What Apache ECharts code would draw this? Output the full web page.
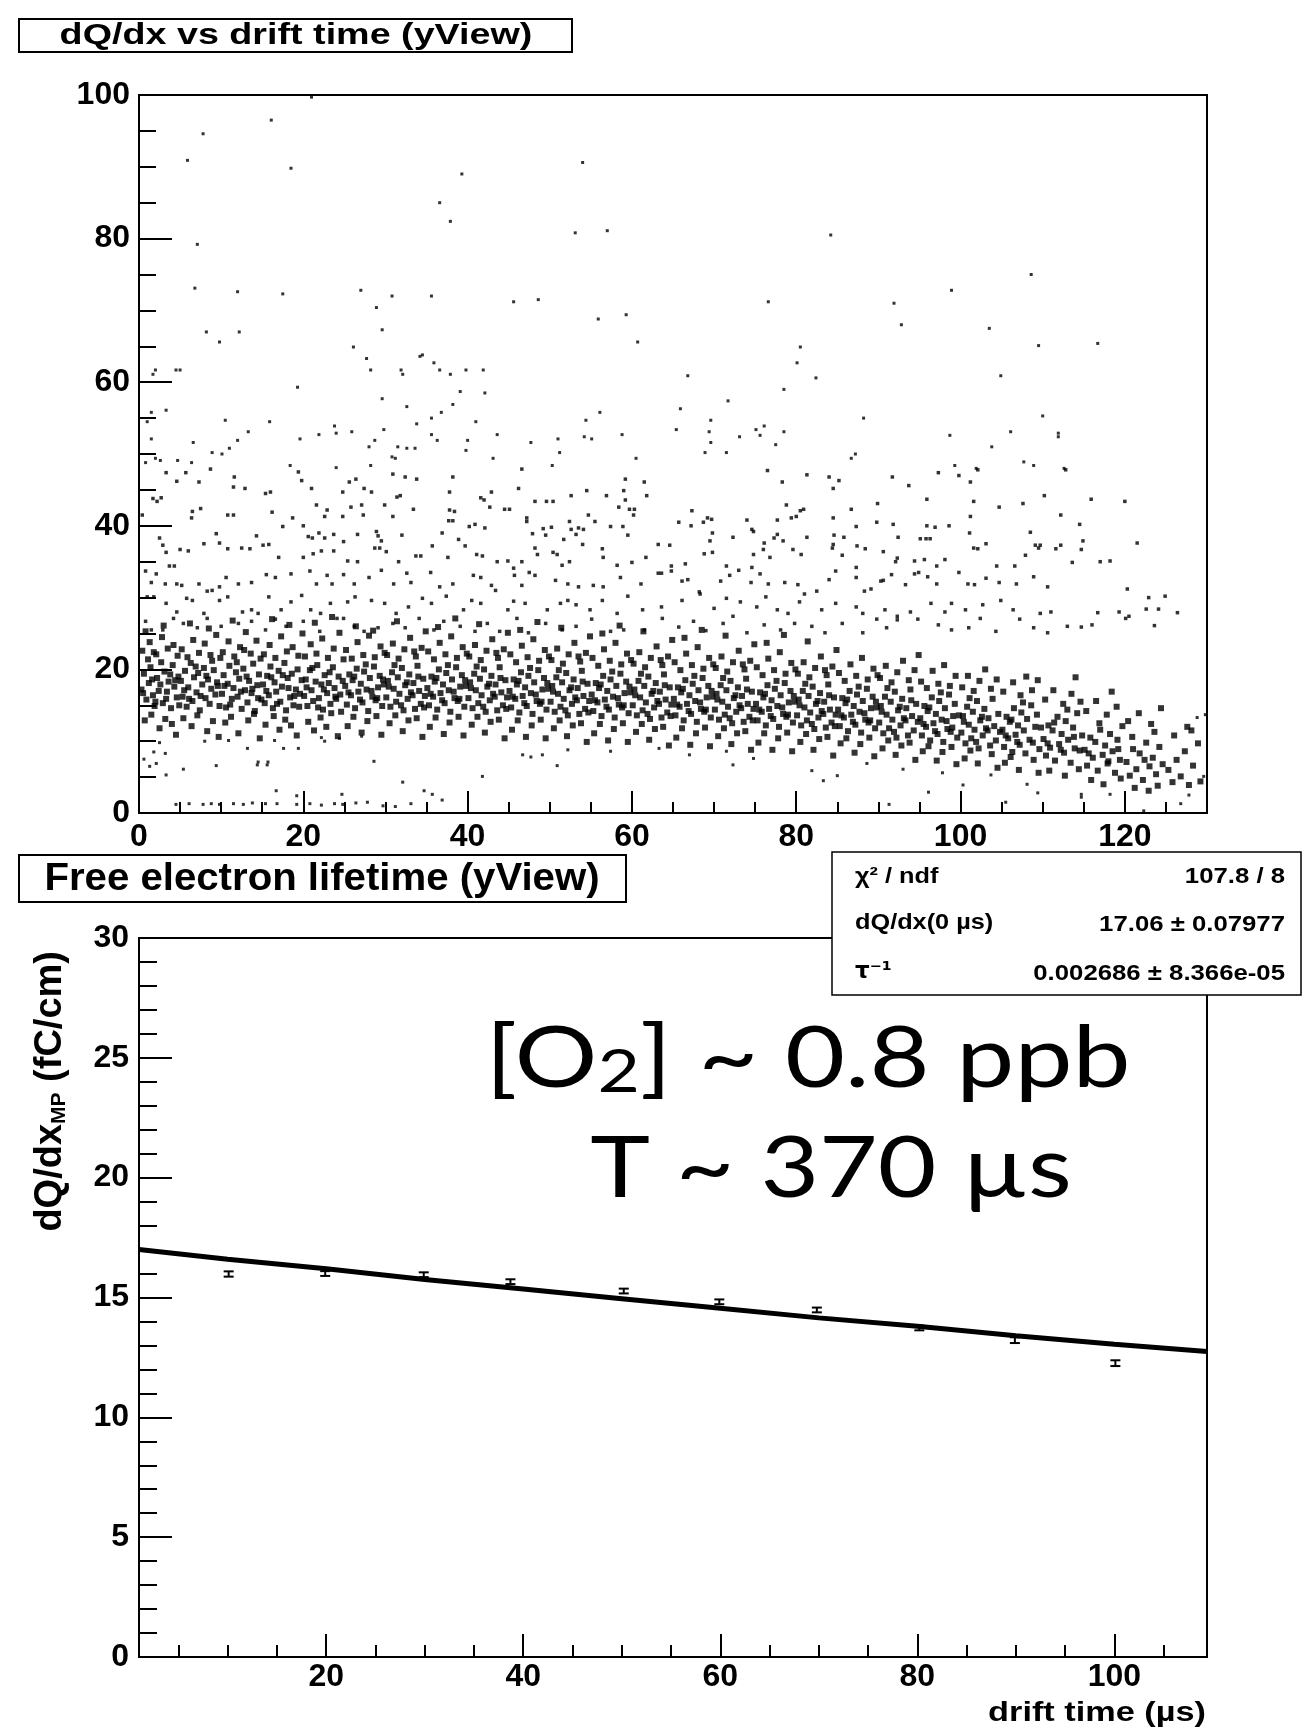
<!DOCTYPE html>
<html lang="en">
<head>
<meta charset="UTF-8">
<title>dQ/dx vs drift time (yView)</title>
<script src="https://cdn.jsdelivr.net/npm/echarts@6/dist/echarts.min.js"></script>
<style>
  html, body { margin: 0; padding: 0; background: #fff; }
  #main { width: 1304px; height: 1730px; }
</style>
</head>
<body>
<div id="main"></div>
<script>
// ---------- top pad: dQ/dx vs drift time ----------
// sparse points above ~48
var scatterHigh = [
  [21.0,99.7],[16.1,96.5],[7.8,94.6],[5.9,90.9],[18.5,89.8],[54.0,90.6],[39.3,89.0],[36.6,85.0],[37.9,82.4],[53.1,80.8],[57.0,81.1],[7.1,79.2],
  [6.8,73.1],[12.0,72.6],[17.5,72.3],[27.0,72.8],[30.8,72.0],[35.6,72.0],[28.9,70.4],[45.6,71.2],[48.6,71.5],[55.9,68.8],[59.3,69.4],
  [8.2,67.0],[12.2,67.0],[9.8,65.6],[29.6,67.3],[60.7,65.6],[26.1,64.9],[27.7,63.3],[34.2,63.6],[34.5,63.8],[35.9,62.7],
  [1.7,61.1],[2.0,61.7],[4.5,61.7],[5.0,61.7],[28.2,61.7],[31.9,61.7],[32.1,61.1],[36.6,61.7],[37.9,61.1],[39.8,61.7],[41.9,61.7],
  [19.3,59.3],[39.1,58.7],[42.1,58.5],[29.6,57.7],[32.6,56.6],[38.2,56.9],[1.5,55.8],[3.3,56.1],[36.8,55.8],[56.1,55.8],
  [1.0,54.5],[10.5,54.7],[15.9,54.5],[35.6,55.0],[41.0,54.5],[54.4,54.7],[23.8,53.9],[13.3,53.1],[24.0,52.9],[25.9,53.1],[29.8,53.4],[33.8,54.2],[65.4,53.4],
  [1.5,52.1],[6.6,51.6],[12.0,51.9],[19.6,52.1],[21.9,52.7],[28.7,51.9],[35.6,52.7],[36.3,51.9],[40.0,51.9],[43.6,52.7],[47.7,51.6],[51.0,52.1],[54.2,52.4],[55.1,52.1],[58.8,52.7],
  [8.9,50.2],[11.0,50.8],[10.1,50.0],[28.0,51.0],[31.5,51.0],[32.6,50.8],[33.6,50.8],[39.8,50.5],[51.2,50.2],
  [0.8,48.8],[2.0,49.4],[2.6,49.1],[4.7,49.1],[6.4,48.8],[30.8,49.6],[31.2,49.4],[43.1,49.4],[60.5,49.4],[18.4,48.4],[24.0,48.1],[28.2,48.4],[50.3,48.4],
  [84.2,80.5],[108.6,75.0],[98.9,72.8],[76.6,71.2],[91.9,71.0],[92.8,68.0],[103.5,67.5],[109.5,65.1],[116.7,65.4],[80.5,64.9],[80.1,62.7],
  [66.8,60.9],[82.4,60.6],[104.9,60.9],[78.5,59.0],[71.7,57.4],[65.9,56.3],[69.6,54.7],[88.2,55.0],[110.0,55.3],
  [69.4,53.1],[75.1,53.4],[76.1,53.9],[75.6,52.6],[78.5,53.1],[73.1,52.4],[69.6,51.6],[77.5,51.3],[68.9,50.2],[71.5,50.2],
  [98.7,52.6],[106.1,53.1],[111.9,52.9],[111.9,52.4],[103.8,51.0],[86.7,49.4],[87.2,50.0],[99.3,48.4],[107.7,48.9],[108.9,48.4],[101.9,48.0],[112.6,48.0]
];

// points between ~25 and ~48
var scatterMid = [
  [3.3,47.4],[5.7,47.4],[8.7,47.9],[4.6,46.2],[7.3,46.1],[11.6,46.8],[19.4,47.5],[19.8,46.3],[26.4,46.5],[25.6,46.1],[30.9,47.2],[32.4,46.8],[33.8,46.5],[38.2,46.8],[46.6,47.9],[59.2,46.5],[61.5,46.1],[76.5,47.7],[78.3,46.1],[81.3,47.1],[84.0,46.8],[85.2,46.3],[91.7,46.8],[93.7,45.6],[97.3,47.4],[99.8,47.0],[101.2,46.1],[102.1,47.8],[112.8,47.8],
  [1.7,43.8],[2.2,43.4],[2.7,43.9],[11.5,45.4],[12.9,45.2],[15.4,44.5],[16.0,44.7],[21.0,45.2],[24.8,44.7],[27.4,45.2],[28.3,44.7],[31.4,44.0],[31.8,44.2],[37.8,44.7],[41.6,43.9],[42.0,43.6],[42.9,44.7],[46.2,45.2],[48.2,43.4],[49.6,43.4],[50.4,43.4],[52.6,44.2],[54.5,44.9],[56.9,44.2],[59.0,44.9],[59.2,43.6],[61.8,44.2],[84.5,45.2],[95.9,43.7],[101.6,43.4],[110.2,44.2],[115.9,43.7],[120.0,43.4],[89.9,43.1],
  [0.4,41.5],[6.4,41.1],[6.5,42.0],[7.5,42.4],[10.8,41.5],[11.5,41.5],[16.2,41.9],[18.7,41.1],[21.6,42.9],[22.9,42.2],[22.6,41.3],[24.8,41.3],[25.8,42.6],[27.1,42.9],[27.3,41.5],[29.9,42.9],[30.9,41.3],[33.4,42.3],[37.8,42.2],[38.4,42.0],[37.7,40.7],[38.2,40.7],[42.7,42.6],[44.5,42.3],[45.1,42.3],[47.2,41.1],[47.2,40.6],[52.4,40.6],[54.7,41.5],[58.4,42.6],[59.7,42.3],[60.3,42.3],[60.2,41.5],[55.5,40.6],[57.4,39.9],[58.9,39.9],[67.3,42.1],[65.7,40.5],[67.2,40.0],[69.7,40.9],[69.2,41.1],[68.7,40.5],[74.0,40.8],[77.7,40.8],[78.8,42.9],[79.4,41.1],[80.0,41.3],[80.5,42.1],[80.9,42.3],[86.7,42.3],[84.5,41.1],[87.3,39.9],[89.8,40.5],[91.8,40.2],[95.9,40.0],[96.9,39.8],[98.6,40.0],[101.2,41.3],[104.7,42.6],[107.6,43.1],[112.2,41.5],[114.5,40.2],
  [9.4,38.9],[14.3,38.6],[17.5,39.9],[20.0,40.0],[20.6,38.5],[21.1,38.3],[21.9,39.0],[22.6,38.3],[23.7,38.8],[24.9,37.8],[26.6,38.8],[28.9,39.2],[29.1,38.6],[29.5,37.9],[32.0,38.7],[36.9,39.0],[38.9,38.1],[40.2,39.9],[40.9,40.2],[42.1,39.7],[47.9,38.9],[49.2,39.6],[50.2,39.8],[49.5,38.7],[51.7,38.1],[52.6,39.5],[53.5,39.7],[54.1,39.5],[53.2,38.8],[54.0,37.4],[59.5,38.7],[63.2,37.4],[64.6,37.3],[69.8,39.0],[69.5,37.9],[72.3,38.4],[74.6,39.5],[74.8,39.2],[76.1,37.6],[77.3,38.3],[78.4,37.9],[77.7,38.8],[81.3,38.4],[84.6,38.7],[85.8,38.4],[84.5,37.4],[87.4,37.2],[92.4,38.4],[95.1,38.2],[95.8,38.2],[96.3,38.2],[101.1,39.0],[103.1,37.5],[108.5,39.1],[109.1,37.3],[109.7,37.3],[112.2,37.3],[114.9,37.9],[121.5,37.6],[2.5,38.3],[2.9,37.3],
  [3.3,36.3],[5.0,36.7],[6.0,36.5],[7.9,37.5],[9.8,37.6],[10.8,36.8],[12.5,36.9],[13.5,36.8],[15.1,37.3],[15.8,37.4],[17.0,35.6],[20.0,35.6],[21.2,36.1],[22.2,36.5],[23.7,36.5],[25.4,35.1],[26.6,35.0],[28.7,36.9],[29.3,36.9],[30.1,36.4],[31.6,35.0],[33.7,35.8],[34.3,35.8],[35.7,37.2],[37.6,35.6],[39.7,37.2],[41.1,36.0],[41.8,35.8],[43.6,35.0],[44.9,35.1],[46.6,35.0],[48.2,36.9],[48.5,36.0],[50.4,36.3],[50.9,36.0],[51.5,34.5],[52.4,35.0],[56.4,36.8],[56.5,35.6],[58.2,34.5],[60.0,34.9],[61.7,35.6],[64.8,34.4],[66.5,34.7],[68.8,36.1],[69.8,36.3],[71.5,34.4],[74.8,36.0],[76.0,36.7],[76.8,35.6],[79.6,36.7],[80.6,36.0],[84.4,36.9],[85.6,35.9],[87.3,34.2],[88.4,36.8],[90.6,36.4],[92.3,35.5],[92.1,35.0],[94.4,35.1],[95.6,35.3],[97.1,34.4],[98.1,35.3],[101.6,36.9],[102.1,36.8],[104.4,34.4],[106.6,34.4],[107.9,35.9],[109.5,36.9],[111.6,36.8],[114.7,36.7],[117.0,35.0],[118.2,35.1],[113.6,34.9],[0.8,33.7],[2.1,33.3],[3.7,34.4],[4.3,34.4],
  [1.5,32.1],[3.2,31.9],[4.6,31.9],[5.2,31.7],[7.3,31.9],[8.3,30.9],[8.9,31.0],[9.8,31.5],[10.6,32.8],[12.1,31.9],[13.7,32.1],[15.5,33.2],[16.6,32.8],[18.5,33.3],[20.8,33.7],[21.6,31.9],[22.9,33.1],[23.5,31.9],[24.9,33.2],[26.2,31.9],[28.0,32.8],[29.5,33.8],[31.0,31.9],[32.6,33.4],[33.1,32.1],[35.5,33.5],[36.6,31.5],[38.2,31.9],[40.7,33.1],[41.6,32.8],[42.9,31.7],[43.4,31.0],[45.6,34.1],[45.7,33.1],[46.6,31.7],[47.5,33.5],[48.2,33.1],[50.7,32.4],[52.2,31.9],[53.5,31.5],[55.3,31.7],[56.5,31.5],[58.6,32.8],[61.1,31.9],[63.2,33.4],[63.6,33.4],[64.8,33.7],[66.1,32.3],[66.8,32.5],[68.2,30.8],[70.8,32.3],[71.9,33.1],[73.0,33.8],[74.5,32.1],[74.6,34.2],[75.6,33.3],[76.6,31.9],[78.6,32.1],[80.2,31.8],[81.0,30.5],[82.5,30.9],[84.0,32.5],[84.8,33.7],[87.3,32.8],[88.3,30.9],[89.1,31.2],[90.3,32.3],[90.6,32.4],[91.6,33.2],[93.3,31.8],[94.4,33.3],[94.9,33.5],[96.0,32.9],[97.1,31.9],[99.8,33.5],[100.9,31.9],[101.7,31.8],[103.1,32.7],[104.7,32.1],[106.8,31.9],[108.9,32.9],[110.6,31.5],[120.3,31.2],[122.9,30.0],[124.9,30.2],
  [1.0,30.1],[1.8,30.1],[3.3,29.2],[4.6,28.0],[5.8,29.9],[6.5,29.6],[7.9,27.8],[9.8,29.6],[10.8,30.1],[12.6,28.0],[13.7,28.3],[14.5,27.8],[15.8,30.1],[17.3,28.3],[18.5,29.4],[19.8,30.3],[20.9,28.3],[22.1,27.8],[23.3,29.2],[25.4,29.4],[26.3,30.1],[28.3,29.6],[29.9,29.2],[31.3,27.8],[32.8,28.7],[34.5,29.9],[35.6,29.2],[37.4,30.2],[39.5,28.3],[40.5,29.6],[41.6,29.2],[44.9,28.3],[45.6,29.5],[47.0,29.2],[49.7,28.3],[51.3,29.2],[52.2,29.6],[53.2,29.0],[54.9,28.3],[56.4,29.6],[58.2,27.8],[59.5,30.2],[61.3,28.3],[63.6,28.7],[66.1,29.6],[68.3,30.5],[70.0,28.5],[71.5,29.9],[73.2,29.4],[75.2,28.7],[76.3,30.1],[77.7,28.3],[79.0,27.8],[80.4,29.4],[83.1,28.3],[84.8,29.2],[87.3,28.7],[88.1,27.8],[90.8,28.3],[92.3,27.4],[93.9,28.0],[96.4,29.2],[98.1,28.0],[98.9,29.2],[100.6,28.3],[102.7,29.0],[104.9,29.6],[106.4,28.3],[109.7,27.8],[111.0,28.0],[116.7,27.9],[119.3,28.0],[120.5,27.4],[122.6,28.4],[124.1,28.4],[126.4,27.9],
  [0.8,26.7],[1.5,25.5],[2.9,25.5],[4.2,27.1],[5.4,26.4],[7.1,25.8],[8.3,27.1],[10.0,26.0],[12.1,26.4],[13.7,26.7],[15.4,25.5],[16.6,27.0],[17.9,26.0],[20.0,26.7],[22.0,25.3],[24.1,27.1],[24.9,27.1],[26.2,26.0],[27.4,25.3],[29.1,25.8],[30.9,26.4],[32.4,25.8],[34.1,27.1],[35.9,25.5],[37.1,26.7],[39.1,26.0],[40.9,25.3],[42.4,26.4],[43.9,25.3],[46.0,27.1],[47.4,25.1],[49.5,26.4],[51.5,25.5],[53.2,26.0],[55.1,27.0],[57.4,25.3],[59.0,25.5],[61.5,25.5],[63.7,27.1],[65.7,25.9],[67.5,26.7],[69.0,25.4],[71.1,26.4],[72.3,27.4],[74.0,25.1],[76.1,26.2],[78.1,25.5],[79.8,26.4],[81.9,26.0],[83.5,25.1],[85.6,26.4],[88.1,25.1],[89.8,27.0],[91.0,25.8],[92.3,26.9],[94.8,27.0],[97.3,26.2],[98.9,25.5],[101.0,25.8],[102.4,27.1],[104.3,25.3],[107.2,27.0],[108.9,25.8],[110.6,25.1],[113.0,26.0],[114.7,25.9],[116.0,26.2],[120.1,27.1],[123.6,26.1]
];

// dense band (most probable dQ/dx region)
var scatterBand = [
  [0.3,17.2],[0.6,19.4],[0.9,15.8],[1.2,18.1],[1.4,20.3],[1.7,16.4],[1.9,14.9],[2.2,18.8],[2.4,17.0],[2.7,21.0],[2.9,15.3],[3.1,19.7],[3.4,16.9],[3.6,18.3],[3.9,14.6],[4.1,20.6],[4.3,17.6],[4.6,16.1],[4.8,19.0],[0.5,16.7],[1.1,21.4],[1.6,18.6],[2.0,15.5],[2.6,17.9],[3.3,15.9],[3.8,19.3],[4.4,18.5],[4.9,15.0],
  [0.4,22.6],[1.3,23.8],[2.1,22.1],[2.8,24.5],[3.5,22.9],[4.2,23.4],[4.7,21.9],[0.8,25.3],[3.0,26.1],[1.8,22.4],[0.7,12.9],[1.5,13.7],[2.5,11.8],[3.2,13.1],[4.0,12.4],[4.5,10.9],
  [5.1,18.4],[5.3,16.2],[5.6,19.8],[5.8,14.8],[6.0,17.5],[6.3,20.9],[6.5,15.6],[6.7,18.9],[7.0,16.8],[7.2,19.5],[7.4,14.3],[7.7,17.9],[7.9,20.2],[8.1,16.0],[8.4,18.6],[8.6,15.2],[8.8,17.3],[9.1,19.9],[9.3,16.5],[9.5,18.2],[9.8,14.9],[5.5,17.1],[6.1,15.9],[6.9,20.4],[7.5,16.3],[8.2,19.1],[8.9,21.2],[9.6,17.7],
  [5.2,22.8],[5.9,21.7],[6.6,24.1],[7.3,22.3],[8.0,23.6],[8.7,22.0],[9.4,24.8],[9.9,21.6],[6.2,26.4],[8.5,25.7],[5.4,13.2],[6.4,12.1],[7.1,13.6],[8.3,11.4],[9.0,12.8],[9.7,10.6],
  [10.1,16.6],[10.3,19.2],[10.6,14.7],[10.8,18.0],[11.0,20.5],[11.3,15.9],[11.5,17.4],[11.8,19.6],[12.0,16.2],[12.2,18.7],[12.5,14.5],[12.7,20.1],[12.9,17.1],[13.2,15.4],[13.4,18.4],[13.7,16.7],[13.9,20.8],[14.1,14.2],[14.4,17.8],[14.6,19.3],[14.9,15.8],[10.4,17.7],[11.1,15.1],[11.9,21.0],[12.4,16.9],[13.1,19.0],[13.8,17.3],[14.5,16.0],
  [10.2,22.4],[10.9,23.9],[11.6,21.8],[12.3,23.1],[13.0,25.2],[13.6,22.2],[14.3,24.0],[14.8,21.5],[11.4,26.8],[12.8,22.7],[10.5,12.6],[11.2,13.4],[12.1,11.1],[13.3,12.9],[14.0,13.8],[14.7,10.4],
  [15.1,17.9],[15.3,15.3],[15.6,19.1],[15.8,16.4],[16.0,20.4],[16.3,14.6],[16.5,18.2],[16.7,16.9],[17.0,19.8],[17.2,15.5],[17.4,17.6],[17.7,20.9],[17.9,14.3],[18.1,18.8],[18.4,16.1],[18.6,19.4],[18.8,15.0],[19.1,17.2],[19.3,20.0],[19.6,16.6],[19.8,18.5],[15.5,17.0],[16.1,18.9],[16.8,15.2],[17.5,19.2],[18.2,17.4],[18.9,16.3],[19.5,14.8],
  [15.2,22.1],[15.9,23.4],[16.6,21.6],[17.3,24.6],[18.0,22.5],[18.7,23.1],[19.4,21.9],[19.9,25.0],[16.2,27.0],[18.3,26.2],[15.4,12.3],[16.4,13.5],[17.1,11.6],[17.8,13.0],[18.5,12.2],[19.2,10.8],
  [20.1,16.3],[20.3,18.6],[20.5,14.9],[20.8,19.9],[21.0,17.1],[21.2,15.6],[21.5,18.3],[21.7,20.6],[21.9,16.0],[22.2,17.9],[22.4,14.4],[22.6,19.2],[22.9,16.7],[23.1,18.1],[23.3,15.2],[23.6,20.3],[23.8,17.4],[24.0,15.9],[24.3,19.0],[24.5,16.5],[24.8,18.4],[20.4,17.5],[21.1,20.2],[21.8,14.7],[22.5,17.2],[23.2,19.6],[23.9,16.2],[24.6,14.1],
  [20.2,21.8],[20.9,23.5],[21.6,22.2],[22.3,24.3],[23.0,21.6],[23.7,22.9],[24.4,25.1],[24.9,21.4],[21.4,26.5],[23.5,27.3],[20.6,12.7],[21.3,11.5],[22.1,13.3],[22.8,12.0],[23.4,13.9],[24.2,10.7],
  [25.1,17.7],[25.3,15.1],[25.6,19.3],[25.8,16.4],[26.0,18.5],[26.3,14.6],[26.5,20.1],[26.7,16.9],[27.0,18.0],[27.2,15.4],[27.4,19.7],[27.7,17.2],[27.9,14.2],[28.1,18.8],[28.4,16.2],[28.6,20.4],[28.8,15.7],[29.1,17.5],[29.3,19.1],[29.6,14.9],[29.8,17.9],[25.5,16.8],[26.2,19.0],[26.9,15.8],[27.6,20.7],[28.3,17.0],[29.0,16.0],[29.7,18.6],
  [25.2,22.7],[25.9,21.5],[26.6,23.8],[27.3,22.0],[28.0,24.7],[28.7,21.7],[29.4,23.2],[29.9,22.3],[26.4,26.0],[28.5,25.4],[25.4,12.1],[26.1,13.4],[27.1,11.2],[27.8,12.8],[28.9,13.5],[29.5,10.9],
  [30.1,16.1],[30.3,18.4],[30.6,14.8],[30.8,19.6],[31.0,17.3],[31.3,15.5],[31.5,18.9],[31.7,16.6],[32.0,20.2],[32.2,14.3],[32.4,17.8],[32.7,15.9],[32.9,19.3],[33.1,16.8],[33.4,18.1],[33.6,14.5],[33.9,20.5],[34.1,17.0],[34.3,15.2],[34.6,18.7],[34.8,16.3],[30.4,17.6],[31.1,20.6],[31.9,15.0],[32.6,18.2],[33.3,16.4],[34.0,19.0],[34.7,14.7],
  [30.2,22.0],[30.9,23.6],[31.6,21.5],[32.3,22.8],[33.0,24.4],[33.7,21.8],[34.4,23.0],[34.9,25.3],[31.4,26.7],[33.5,22.5],[30.5,12.5],[31.2,13.6],[32.1,11.4],[32.8,12.9],[33.8,13.2],[34.5,10.6],
  [35.1,17.4],[35.3,15.0],[35.6,19.0],[35.8,16.2],[36.0,18.3],[36.3,14.4],[36.5,20.0],[36.7,16.7],[37.0,17.9],[37.2,15.3],[37.4,19.5],[37.7,17.1],[37.9,14.1],[38.1,18.6],[38.4,16.0],[38.6,20.3],[38.8,15.6],[39.1,17.6],[39.3,19.2],[39.6,14.8],[39.8,17.7],[35.5,16.6],[36.2,18.8],[36.9,15.7],[37.6,20.6],[38.3,16.9],[39.0,15.9],[39.7,18.5],
  [35.2,22.5],[35.9,21.4],[36.6,23.7],[37.3,22.1],[38.0,24.6],[38.7,21.6],[39.4,23.1],[39.9,22.2],[36.4,25.9],[38.5,27.1],[35.4,12.0],[36.1,13.3],[37.1,11.0],[37.8,12.6],[38.9,13.4],[39.5,10.8],
  [40.1,16.0],[40.3,18.2],[40.6,14.6],[40.8,19.4],[41.0,17.1],[41.3,15.3],[41.5,18.7],[41.7,16.4],[42.0,20.0],[42.2,14.1],[42.4,17.6],[42.7,15.7],[42.9,19.1],[43.1,16.6],[43.4,17.9],[43.6,14.3],[43.9,20.3],[44.1,16.8],[44.3,15.0],[44.6,18.5],[44.8,16.1],[40.4,17.4],[41.1,20.4],[41.9,14.8],[42.6,18.0],[43.3,16.2],[44.0,18.8],[44.7,14.5],
  [40.2,21.8],[40.9,23.4],[41.6,21.3],[42.3,22.6],[43.0,24.2],[43.7,21.6],[44.4,22.8],[44.9,25.1],[41.4,26.3],[43.5,22.3],[40.5,12.3],[41.2,13.4],[42.1,11.2],[42.8,12.7],[43.8,13.0],[44.5,10.4],
  [45.1,17.0],[45.3,14.7],[45.6,18.6],[45.8,15.9],[46.0,17.9],[46.3,14.0],[46.5,19.6],[46.7,16.3],[47.0,17.5],[47.2,14.9],[47.4,19.1],[47.7,16.7],[47.9,13.8],[48.1,18.2],[48.4,15.6],[48.6,19.9],[48.8,15.2],[49.1,17.2],[49.3,18.8],[49.6,14.4],[49.8,17.3],[45.5,16.2],[46.2,18.4],[46.9,15.3],[47.6,20.2],[48.3,16.5],[49.0,15.5],[49.7,18.1],
  [45.2,22.1],[45.9,21.0],[46.6,23.3],[47.3,21.7],[48.0,24.2],[48.7,21.2],[49.4,22.7],[49.9,21.8],[46.4,25.5],[48.5,26.6],[45.4,11.6],[46.1,12.9],[47.1,10.6],[47.8,12.2],[48.9,13.0],[49.5,10.4],
  [50.1,15.5],[50.3,17.7],[50.6,14.1],[50.8,18.9],[51.0,16.6],[51.3,14.8],[51.5,18.2],[51.7,15.9],[52.0,19.5],[52.2,13.6],[52.4,17.1],[52.7,15.2],[52.9,18.6],[53.1,16.1],[53.4,17.4],[53.6,13.8],[53.9,19.8],[54.1,16.3],[54.3,14.5],[54.6,18.0],[54.8,15.6],[50.4,16.9],[51.1,19.9],[51.9,14.3],[52.6,17.5],[53.3,15.7],[54.0,18.3],[54.7,14.0],
  [50.2,21.3],[50.9,22.9],[51.6,20.8],[52.3,22.1],[53.0,23.7],[53.7,21.1],[54.4,22.3],[54.9,24.6],[51.4,25.8],[53.5,21.8],[50.5,11.8],[51.2,12.9],[52.1,10.7],[52.8,12.2],[53.8,12.5],[54.5,9.9],
  [55.1,16.5],[55.3,14.2],[55.6,18.1],[55.8,15.4],[56.0,17.4],[56.3,13.5],[56.5,19.1],[56.7,15.8],[57.0,17.0],[57.2,14.4],[57.4,18.6],[57.7,16.2],[57.9,13.3],[58.1,17.7],[58.4,15.1],[58.6,19.4],[58.8,14.7],[59.1,16.7],[59.3,18.3],[59.6,13.9],[59.8,16.8],[55.5,15.7],[56.2,17.9],[56.9,14.8],[57.6,19.7],[58.3,16.0],[59.0,15.0],[59.7,17.6],
  [55.2,21.6],[55.9,20.5],[56.6,22.8],[57.3,21.2],[58.0,23.7],[58.7,20.7],[59.4,22.2],[59.9,21.3],[56.4,25.0],[58.5,26.1],[55.4,11.1],[56.1,12.4],[57.1,10.1],[57.8,11.7],[58.9,12.5],[59.5,9.9],
  [60.1,15.0],[60.3,17.2],[60.6,13.6],[60.8,18.4],[61.0,16.1],[61.3,14.3],[61.5,17.7],[61.7,15.4],[62.0,19.0],[62.2,13.1],[62.4,16.6],[62.7,14.7],[62.9,18.1],[63.1,15.6],[63.4,16.9],[63.6,13.3],[63.9,19.3],[64.1,15.8],[64.3,14.0],[64.6,17.5],[64.8,15.1],[60.4,16.4],[61.1,19.4],[61.9,13.8],[62.6,17.0],[63.3,15.2],[64.0,17.8],[64.7,13.5],
  [60.2,20.8],[60.9,22.4],[61.6,20.3],[62.3,21.6],[63.0,23.2],[63.7,20.6],[64.4,21.8],[64.9,24.1],[61.4,25.3],[63.5,21.3],[60.5,11.3],[61.2,12.4],[62.1,10.2],[62.8,11.7],[63.8,12.0],[64.5,9.4],
  [65.1,15.9],[65.3,13.6],[65.6,17.5],[65.8,14.8],[66.0,16.8],[66.3,12.9],[66.5,18.5],[66.7,15.2],[67.0,16.4],[67.2,13.8],[67.4,18.0],[67.7,15.6],[67.9,12.7],[68.1,17.1],[68.4,14.5],[68.6,18.8],[68.8,14.1],[69.1,16.1],[69.3,17.7],[69.6,13.3],[69.8,16.2],[65.5,15.1],[66.2,17.3],[66.9,14.2],[67.6,19.1],[68.3,15.4],[69.0,14.4],[69.7,17.0],
  [65.2,21.0],[65.9,19.9],[66.6,22.2],[67.3,20.6],[68.0,23.1],[68.7,20.1],[69.4,21.6],[69.9,20.7],[66.4,24.4],[68.5,25.5],[65.4,10.5],[66.1,11.8],[67.1,9.5],[67.8,11.1],[68.9,11.9],[69.5,9.3],
  [70.1,14.4],[70.3,16.6],[70.6,13.0],[70.8,17.8],[71.0,15.5],[71.3,13.7],[71.5,17.1],[71.7,14.8],[72.0,18.4],[72.2,12.5],[72.4,16.0],[72.7,14.1],[72.9,17.5],[73.1,15.0],[73.4,16.3],[73.6,12.7],[73.9,18.7],[74.1,15.2],[74.3,13.4],[74.6,16.9],[74.8,14.5],[70.4,15.8],[71.1,18.8],[71.9,13.2],[72.6,16.4],[73.3,14.6],[74.0,17.2],[74.7,12.9],
  [70.2,20.2],[70.9,21.8],[71.6,19.7],[72.3,21.0],[73.0,22.6],[73.7,20.0],[74.4,21.2],[74.9,23.5],[71.4,24.7],[73.5,20.7],[70.5,10.7],[71.2,11.8],[72.1,9.6],[72.8,11.1],[73.8,11.4],[74.5,8.8],
  [75.1,15.2],[75.3,12.9],[75.6,16.8],[75.8,14.1],[76.0,16.1],[76.3,12.2],[76.5,17.8],[76.7,14.5],[77.0,15.7],[77.2,13.1],[77.4,17.3],[77.7,14.9],[77.9,12.0],[78.1,16.4],[78.4,13.8],[78.6,18.1],[78.8,13.4],[79.1,15.4],[79.3,17.0],[79.6,12.6],[79.8,15.5],[75.5,14.4],[76.2,16.6],[76.9,13.5],[77.6,18.4],[78.3,14.7],[79.0,13.7],[79.7,16.3],
  [75.2,20.3],[75.9,19.2],[76.6,21.5],[77.3,19.9],[78.0,22.4],[78.7,19.4],[79.4,20.9],[79.9,20.0],[76.4,23.7],[78.5,24.8],[75.4,9.8],[76.1,11.1],[77.1,8.8],[77.8,10.4],[78.9,11.2],[79.5,8.6],
  [80.1,13.6],[80.3,15.8],[80.6,12.2],[80.8,17.0],[81.0,14.7],[81.3,12.9],[81.5,16.3],[81.7,14.0],[82.0,17.6],[82.2,11.7],[82.4,15.2],[82.7,13.3],[82.9,16.7],[83.1,14.2],[83.4,15.5],[83.6,11.9],[83.9,17.9],[84.1,14.4],[84.3,12.6],[84.6,16.1],[84.8,13.7],[80.4,15.0],[81.1,18.0],[81.9,12.4],[82.6,15.6],[83.3,13.8],[84.0,16.4],[84.7,12.1],
  [80.2,19.4],[80.9,21.0],[81.6,18.9],[82.3,20.2],[83.0,21.8],[83.7,19.2],[84.4,20.4],[84.9,22.7],[81.4,23.9],[83.5,19.9],[80.5,9.9],[81.2,11.0],[82.1,8.8],[82.8,10.3],[83.8,10.6],[84.5,8.0],
  [85.1,14.4],[85.3,12.1],[85.6,16.0],[85.8,13.3],[86.0,15.3],[86.3,11.4],[86.5,17.0],[86.7,13.7],[87.0,14.9],[87.2,12.3],[87.4,16.5],[87.7,14.1],[87.9,11.2],[88.1,15.6],[88.4,13.0],[88.6,17.3],[88.8,12.6],[89.1,14.6],[89.3,16.2],[89.6,11.8],[89.8,14.7],[85.5,13.6],[86.2,15.8],[86.9,12.7],[87.6,17.6],[88.3,13.9],[89.0,12.9],[89.7,15.5],
  [85.2,19.5],[85.9,18.4],[86.6,20.7],[87.3,19.1],[88.0,21.6],[88.7,18.6],[89.4,20.1],[89.9,19.2],[85.4,9.7],[86.1,10.4],[87.1,8.4],[87.8,9.6],[88.9,10.5],[89.5,7.9],
  [90.1,12.6],[90.3,14.9],[90.6,11.1],[90.8,16.2],[91.0,13.7],[91.3,11.8],[91.5,15.5],[91.7,13.0],[92.0,16.9],[92.2,10.5],[92.4,14.3],[92.7,12.2],[92.9,15.9],[93.1,13.2],[93.4,14.6],[93.6,10.8],[93.9,17.2],[94.1,13.5],[94.3,11.5],[94.6,15.2],[94.8,12.7],[90.4,14.1],[91.1,17.4],[91.9,11.3],[92.6,14.8],[93.3,12.9],[94.0,15.7],
  [90.2,18.8],[90.9,20.5],[91.6,18.2],[92.3,19.6],[93.0,21.2],[93.7,18.5],[94.4,19.9],[94.9,22.0],[90.5,9.0],[91.2,10.1],[92.1,8.1],[92.8,9.4],[93.8,9.8],[94.5,7.4],
  [95.1,13.2],[95.3,10.8],[95.6,14.9],[95.8,12.0],[96.0,14.2],[96.3,10.1],[96.5,16.1],[96.7,12.5],[97.0,13.8],[97.2,11.0],[97.4,15.6],[97.7,13.0],[97.9,9.9],[98.1,14.6],[98.4,11.7],[98.6,16.5],[98.8,11.3],[99.1,13.5],[99.3,15.2],[99.6,10.5],[99.8,13.6],[95.5,12.4],[96.2,14.7],[96.9,11.4],[97.6,16.8],[98.3,12.8],[99.0,11.9],
  [95.2,18.3],[95.9,17.4],[96.6,19.8],[97.3,18.0],[98.0,20.6],[98.7,17.7],[99.4,19.1],[95.4,8.6],[96.1,9.3],[97.1,7.3],[97.8,8.5],[98.9,9.2],[99.5,6.8],
  [100.1,11.2],[100.3,13.5],[100.6,9.7],[100.8,14.8],[101.0,12.3],[101.3,10.4],[101.5,14.1],[101.7,11.6],[102.0,15.6],[102.2,9.0],[102.4,12.9],[102.7,10.8],[102.9,14.5],[103.1,11.8],[103.4,13.2],[103.6,9.4],[103.9,15.9],[104.1,12.1],[104.3,10.1],[104.6,13.8],[104.8,11.3],[100.4,12.7],[101.1,16.0],[101.9,9.9],[102.6,13.4],[103.3,11.5],
  [100.2,17.5],[100.9,19.1],[101.6,17.0],[102.3,18.4],[103.0,20.0],[103.7,17.3],[104.4,18.6],[100.5,7.6],[101.2,8.7],[102.1,6.9],[103.8,8.2],[104.5,6.3],
  [105.1,11.6],[105.3,9.2],[105.6,13.4],[105.8,10.4],[106.0,12.7],[106.3,8.5],[106.5,14.6],[106.7,10.9],[107.0,12.2],[107.2,9.5],[107.4,14.0],[107.7,11.5],[107.9,8.3],[108.1,13.1],[108.4,10.2],[108.6,15.0],[108.8,9.8],[109.1,12.0],[109.3,13.7],[109.6,8.9],[109.8,11.9],[105.5,10.8],[106.2,13.0],[106.9,9.9],[107.6,15.4],
  [105.2,16.9],[106.4,18.2],[107.3,16.4],[108.0,19.0],[108.7,17.1],[109.4,18.5],[105.4,7.0],[106.1,7.8],[107.1,6.0],[108.9,7.4],[109.5,5.6],
  [110.1,10.3],[110.4,8.0],[110.7,12.2],[110.9,9.1],[111.2,11.5],[111.5,7.3],[111.8,13.4],[112.0,9.6],[112.3,11.0],[112.6,8.4],[112.8,12.8],[113.1,10.2],[113.4,7.0],[113.7,11.9],[113.9,9.0],[114.2,13.9],[114.5,8.7],[114.8,10.8],[110.6,9.7],[111.4,12.6],[112.2,8.8],[113.0,14.4],[113.8,10.6],
  [110.3,15.8],[111.3,17.1],[112.5,15.2],[113.5,16.6],[114.6,15.5],[114.0,18.9],[110.8,5.9],[112.7,5.2],[114.4,6.1],
  [115.1,8.8],[115.4,6.6],[115.8,10.5],[116.1,7.7],[116.4,9.9],[116.7,5.9],[117.0,11.6],[117.3,8.1],[117.6,9.4],[117.9,6.9],[118.2,11.0],[118.5,8.6],[118.8,5.6],[119.1,10.2],[119.4,7.4],[119.7,12.1],[115.6,8.3],[116.9,12.5],[118.0,7.2],[119.2,8.9],
  [115.3,14.2],[116.5,15.6],[117.8,13.7],[119.0,14.8],[118.4,16.9],[115.9,4.6],[117.4,4.0],[119.5,4.8],
  [120.2,7.1],[120.6,5.2],[121.0,8.9],[121.4,6.1],[121.8,8.3],[122.2,4.6],[122.6,9.8],[123.0,6.5],[123.4,7.7],[123.8,5.4],[124.2,9.2],[124.6,6.8],[120.9,10.6],[122.4,7.4],[123.6,11.3],
  [120.4,12.8],[121.7,13.9],[123.2,12.4],[124.4,14.6],[121.2,3.5],[122.9,3.1],[124.0,3.8],
  [125.3,6.0],[125.8,4.3],[126.3,7.4],[126.8,5.1],[127.3,8.6],[127.8,3.9],[128.3,6.6],[128.9,9.7],[126.0,10.8],[127.6,12.0],[129.2,4.4],[128.1,11.5]
];

// points under the band, incl. the row near zero
var scatterLow = [
  [4.5,1.2],[6.1,1.3],[7.8,1.2],[8.8,1.3],[9.8,1.2],[11.5,1.3],[12.7,1.2],[13.8,1.4],[15.4,1.3],[16.8,1.3],[19.2,1.2],[20.8,1.3],[22.2,1.1],[23.8,1.3],[24.8,1.2],[26.4,1.4],[27.8,1.5],[29.7,1.0],[31.2,0.9],[33.1,1.3],
  [16.7,3.1],[19.2,2.4],[24.7,2.6],[32.1,4.3],[34.7,3.1],[35.7,2.6],[36.9,1.8],
  [50.9,6.6],[41.8,5.1],[28.6,7.2],[9.4,6.6],[5.4,6.1],[1.3,6.5],[2.1,6.9],[3.3,5.3],[14.4,6.7],[15.6,6.7],
  [0.6,7.5],[1.8,8.5],[3.2,8.3],[2.5,9.8],[8.0,10.0],[10.9,10.1],[13.2,9.0],[14.5,7.1],[15.7,7.1],[16.5,10.1],[17.6,9.0],[19.4,9.0],[22.2,10.5],[22.6,10.0],[24.4,10.4],[27.1,10.7],[46.7,8.1],[47.7,7.8],[49.1,8.1],[52.2,8.8],[57.4,8.6],
  [63.3,9.0],[67.0,8.1],[71.5,8.6],[72.3,6.7],[81.9,5.9],[83.3,4.5],[85.0,5.2],[74.8,7.6],[88.6,6.9],[93.0,6.1],[97.8,5.6],
  [91.3,1.2],[96.1,2.9],[100.3,3.9],[105.5,1.5],[108.1,4.0],[109.4,2.8],[103.7,5.3],[114.7,2.6],[114.7,2.2],[118.2,2.6],[122.3,0.3],[126.8,1.3],[127.8,2.5],[129.6,5.1],[129.8,13.7],[128.8,13.3]
];

// ---------- bottom pad: free electron lifetime ----------
var lifetimeX   = [10.1, 19.9, 29.9, 38.7, 50.2, 59.9, 69.8, 80.2, 89.9, 100.1];
var lifetimeY   = [15.98, 16.0, 15.95, 15.66, 15.27, 14.82, 14.48, 13.73, 13.22, 12.26];
var lifetimeErr = [0.11, 0.1, 0.1, 0.1, 0.1, 0.1, 0.1, 0.1, 0.12, 0.12];
// fitted curve
var fitX = [1, 10, 20, 30, 40, 50, 60, 70, 80, 90, 100, 109.4];
var fitY = [17.0, 16.6, 16.2, 15.75, 15.35, 14.95, 14.55, 14.15, 13.8, 13.4, 13.05, 12.75];

// ticks
var topXMajor = [0, 20, 40, 60, 80, 100, 120];
var topXMinor = [5, 10, 15, 25, 30, 35, 45, 50, 55, 65, 70, 75, 85, 90, 95, 105, 110, 115, 125];
var topYMajor = [0, 20, 40, 60, 80, 100];
var topYMinor = [5, 10, 15, 25, 30, 35, 45, 50, 55, 65, 70, 75, 85, 90, 95];
var botXMajor = [20, 40, 60, 80, 100];
var botXMinor = [5, 10, 15, 25, 30, 35, 45, 50, 55, 65, 70, 75, 85, 90, 95, 105];
var botYMajor = [0, 5, 10, 15, 20, 25, 30];
var botYMinor = [1, 2, 3, 4, 6, 7, 8, 9, 11, 12, 13, 14, 16, 17, 18, 19, 21, 22, 23, 24, 26, 27, 28, 29];

var chart = echarts.init(document.getElementById('main'));

function axis(dim, grid, min, max, ticks, len, labels, margin, showLine) {
  return {
    type: 'value', gridIndex: grid, min: min, max: max,
    position: dim === 'x' ? 'bottom' : 'left',
    axisLine: { show: showLine, onZero: false, lineStyle: { color: '#000', width: 2 } },
    axisTick: { show: true, inside: true, length: len, customValues: ticks, lineStyle: { color: '#000', width: 2 } },
    axisLabel: labels ? {
      show: true, customValues: labels, margin: margin, color: '#000',
      fontFamily: 'Liberation Sans', fontWeight: 'bold', fontSize: 32
    } : { show: false },
    splitLine: { show: false }
  };
}

function dots(data, size) {
  return {
    type: 'scatter', xAxisIndex: 0, yAxisIndex: 0, data: data,
    symbol: 'rect', symbolSize: size, itemStyle: { color: '#000' }, silent: true, clip: true
  };
}

function txt(x, y, text, font, align, sx, extra) {
  var el = {
    type: 'text', x: x, y: y, scaleX: sx || 1, z: 110,
    style: { text: text, font: font, fill: '#000', align: align, verticalAlign: 'middle' }
  };
  if (extra) { for (var k in extra) el.style[k] = extra[k]; }
  return el;
}

var option = {
  animation: false,
  backgroundColor: '#fff',
  grid: [
    { left: 139, top: 95, width: 1068, height: 718, show: true, borderColor: '#000', borderWidth: 2, backgroundColor: 'transparent', outerBoundsMode: 'none' },
    { left: 139, top: 938, width: 1068, height: 719, show: true, borderColor: '#000', borderWidth: 2, backgroundColor: 'transparent', outerBoundsMode: 'none' }
  ],
  xAxis: [
    axis('x', 0, 0, 130, topXMajor, 22, topXMajor, 8, true),
    axis('x', 0, 0, 130, topXMinor, 11, null, 0, false),
    axis('x', 1, 1, 109.4, botXMajor, 23, botXMajor, 4, true),
    axis('x', 1, 1, 109.4, botXMinor, 12, null, 0, false)
  ],
  yAxis: [
    axis('y', 0, 0, 100, topYMajor, 33, topYMajor, 9, true),
    axis('y', 0, 0, 100, topYMinor, 17, null, 0, false),
    axis('y', 1, 0, 30, botYMajor, 33, botYMajor, 10, true),
    axis('y', 1, 0, 30, botYMinor, 18, null, 0, false)
  ],
  series: [
    dots(scatterHigh, 3),
    dots(scatterMid, 3.5),
    dots(scatterLow, 3),
    dots(scatterBand, 6),
    {
      type: 'line', xAxisIndex: 2, yAxisIndex: 2, silent: true, showSymbol: false,
      data: fitX.map(function (x, i) { return [x, fitY[i]]; }),
      lineStyle: { color: '#000', width: 5 }, z: 3
    },
    {
      type: 'custom', xAxisIndex: 2, yAxisIndex: 2, silent: true, z: 4,
      data: lifetimeX.map(function (x, i) { return [x, lifetimeY[i], lifetimeErr[i]]; }),
      renderItem: function (params, api) {
        var x = api.value(0), y = api.value(1), e = api.value(2);
        var hi = api.coord([x, y + e]), lo = api.coord([x, y - e]);
        var st = { stroke: '#000', lineWidth: 2 };
        return {
          type: 'group', children: [
            { type: 'line', shape: { x1: hi[0], y1: hi[1], x2: lo[0], y2: lo[1] }, style: st },
            { type: 'line', shape: { x1: hi[0] - 5, y1: hi[1], x2: hi[0] + 5, y2: hi[1] }, style: st },
            { type: 'line', shape: { x1: lo[0] - 5, y1: lo[1], x2: lo[0] + 5, y2: lo[1] }, style: st }
          ]
        };
      }
    }
  ],
  graphic: [
    // pad titles
    { type: 'rect', z: 100, shape: { x: 19, y: 19, width: 553, height: 33 }, style: { fill: '#fff', stroke: '#000', lineWidth: 2 } },
    txt(296, 36, 'dQ/dx vs drift time (yView)', 'bold 29px "Liberation Sans"', 'center', 1.3),
    { type: 'rect', z: 100, shape: { x: 19, y: 855, width: 607, height: 47 }, style: { fill: '#fff', stroke: '#000', lineWidth: 2 } },
    txt(322, 879, 'Free electron lifetime (yView)', 'bold 39px "Liberation Sans"', 'center', 1.03),
    // fit statistics box
    { type: 'rect', z: 100, shape: { x: 832, y: 852, width: 469, height: 143 }, style: { fill: '#fff', stroke: '#000', lineWidth: 1.5 } },
    txt(855, 877, 'χ² / ndf', 'bold 22px "Liberation Sans"', 'left', 1.15),
    txt(855, 923, 'dQ/dx(0 µs)', 'bold 22px "Liberation Sans"', 'left', 1.15),
    txt(855, 972, 'τ⁻¹', 'bold 23px "DejaVu Sans"', 'left', 1.0),
    txt(1285, 877, '107.8 / 8', 'bold 22px "Liberation Sans"', 'right', 1.17),
    txt(1285, 925, '17.06 ± 0.07977', 'bold 22px "Liberation Sans"', 'right', 1.17),
    txt(1285, 974, '0.002686 ± 8.366e-05', 'bold 22px "Liberation Sans"', 'right', 1.17),
    // annotation
    txt(808, 1060, '{a|[O}{b|2}{a|] ~ 0.8 ppb}', '85px Lato', 'center', 1.22, {
      rich: {
        a: { font: '85px Lato', verticalAlign: 'bottom' },
        b: { font: '60px Lato', verticalAlign: 'bottom', lineHeight: 48 }
      }
    }),
    txt(831, 1170, 'T ~ 370 µs', '85px Lato', 'center', 1.19),
    // axis titles of the lifetime pad
    {
      type: 'text', x: 51, y: 951, rotation: Math.PI / 2, z: 110,
      style: {
        text: '{m|dQ/dx}{s|MP}{m| (fC/cm)}', fill: '#000', align: 'right', verticalAlign: 'middle',
        rich: {
          m: { font: 'bold 38px "Liberation Sans"', verticalAlign: 'bottom' },
          s: { font: 'bold 21px "Liberation Sans"', verticalAlign: 'bottom', lineHeight: 12 }
        }
      }
    },
    txt(1206, 1714, 'drift time (µs)', 'bold 27px "Liberation Sans"', 'right', 1.27)
  ]
};

chart.setOption(option);
</script>
</body>
</html>
